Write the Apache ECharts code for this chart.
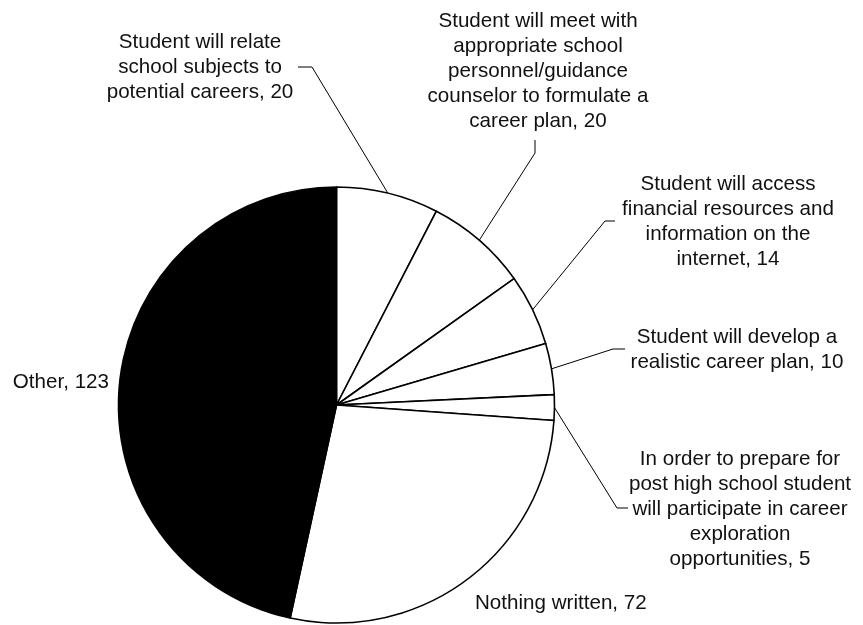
<!DOCTYPE html>
<html>
<head>
<meta charset="utf-8">
<style>
  html, body { margin: 0; padding: 0; background: #fff; }
  #chart { width: 863px; height: 625px; }
</style>
<script src="https://cdn.jsdelivr.net/npm/echarts@6/dist/echarts.min.js"></script>
</head>
<body>
<div id="chart"></div>
<script>
// Responses per career-planning goal
const categories = [
  'Student will relate\nschool subjects to\npotential careers',
  'Student will meet with\nappropriate school\npersonnel/guidance\ncounselor to formulate a\ncareer plan',
  'Student will access\nfinancial resources and\ninformation on the\ninternet',
  'Student will develop a\nrealistic career plan',
  'In order to prepare for\npost high school student\nwill participate in career\nexploration\nopportunities',
  'Nothing written',
  'Other'
];
const counts = [20, 20, 14, 10, 5, 72, 123];
const sliceColors = ['#ffffff', '#ffffff', '#ffffff', '#ffffff', '#ffffff', '#ffffff', '#000000'];

// Pie geometry
const CX = 336.5, CY = 405, R = 218;

// Where each label block sits and how its leader line bends
const labelPlacement = [
  { x: 200, y: 67,  align: 'center', knee: [312, 67],  end: [298, 67] },
  { x: 538, y: 71,  align: 'center', knee: [535, 153], end: [535, 140] },
  { x: 728, y: 222, align: 'center', knee: [605, 221], end: [615, 221] },
  { x: 737, y: 350, align: 'center', knee: [613, 349], end: [625, 349] },
  { x: 740, y: 509, align: 'center', knee: [617, 508], end: [628, 508] },
  { x: 475, y: 603, align: 'left',   knee: null, end: null },
  { x: 109, y: 382, align: 'right',  knee: null, end: null }
];

const total = counts.reduce((a, b) => a + b, 0);

// Point on the rim at the middle of slice i (clockwise from 12 o'clock)
function rimPoint(i) {
  let before = 0;
  for (let k = 0; k < i; k++) before += counts[k];
  const frac = (before + counts[i] / 2) / total;
  const a = frac * 2 * Math.PI;
  return [CX + R * Math.sin(a), CY - R * Math.cos(a)];
}

const data = categories.map((name, i) => ({
  name: name,
  value: counts[i],
  itemStyle: { color: sliceColors[i] },
  labelLine: { show: labelPlacement[i].knee !== null }
}));

const chart = echarts.init(document.getElementById('chart'), null, { renderer: 'canvas' });
chart.setOption({
  backgroundColor: '#ffffff',
  animation: false,
  series: [{
    type: 'pie',
    center: [CX, CY],
    radius: [0, R],
    startAngle: 90,
    clockwise: true,
    avoidLabelOverlap: false,
    minShowLabelAngle: 0,
    silent: true,
    data: data,
    itemStyle: { borderColor: '#000000', borderWidth: 1.6 },
    label: {
      show: true,
      position: 'outside',
      formatter: '{b}, {c}',
      color: '#111111',
      fontFamily: '"Liberation Sans", Arial, Helvetica, sans-serif',
      fontSize: 20.6,
      lineHeight: 25,
      align: 'center'
    },
    labelLine: {
      show: true,
      lineStyle: { color: '#000000', width: 1 },
      length: 10,
      length2: 10
    },
    labelLayout: function (params) {
      const p = labelPlacement[params.dataIndex];
      const out = {
        x: p.x,
        y: p.y,
        align: p.align,
        verticalAlign: 'middle',
        hideOverlap: false,
        moveOverlap: null
      };
      if (p.knee) {
        out.labelLinePoints = [rimPoint(params.dataIndex), p.knee, p.end];
      }
      return out;
    },
    emphasis: { disabled: true }
  }]
});
</script>
</body>
</html>
